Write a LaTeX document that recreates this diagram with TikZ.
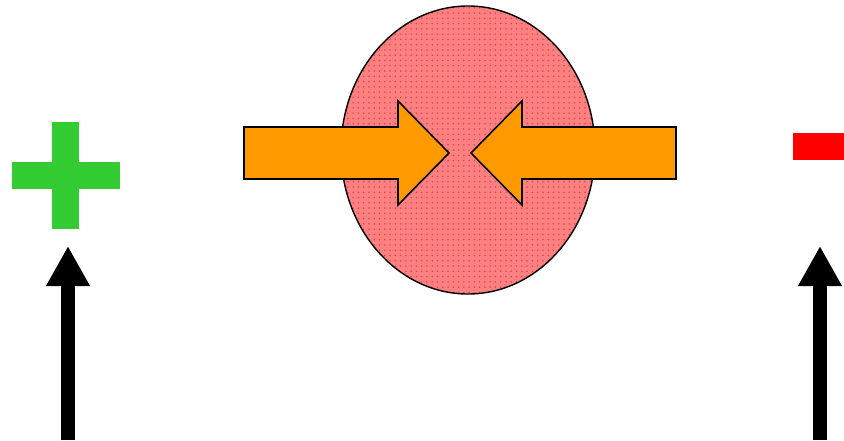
\documentclass[tikz,border=0pt]{standalone}
\usepackage{xcolor}
\usepackage{tikz}
\usetikzlibrary{arrows.meta,patterns}
\definecolor{plusgreen}{RGB}{51,204,51}
\definecolor{pushorange}{RGB}{255,153,0}
\definecolor{blobred}{RGB}{255,128,128}
\definecolor{dotred}{RGB}{225,70,70}

\begin{document}
\begin{tikzpicture}[x=0.02cm,y=-0.02cm,
 blob/.style={draw=black,line width=0.8pt,preaction={fill=blobred},pattern=dots,pattern color=dotred},
 push/.style={draw=black,line width=0.9pt,fill=pushorange,line join=miter},
 pole/.style={line width=0.27cm,-{Triangle[length=0.8cm,width=0.82cm]}}]
\useasboundingbox (0,0) rectangle (844,440);
% charges
\fill[plusgreen] (52,122) rectangle (79,229);
\fill[plusgreen] (12,162) rectangle (120,189);
\fill[red] (793,133) rectangle (844,160);
% squeezed region
\path[blob] (468,150) ellipse [x radius=127,y radius=144];
\draw[push] (244,127) -- (398,127) -- (398,101) -- (449,153) -- (398,205)
 -- (398,179) -- (244,179) -- cycle;
\draw[push] (676,127) -- (522,127) -- (522,101) -- (471,153) -- (522,205)
 -- (522,179) -- (676,179) -- cycle;
% upward arrows
\coordinate (lb) at (68,440);
\coordinate (lt) at (68,246);
\coordinate (rb) at (820,440);
\coordinate (rt) at (820,246);
\draw[pole] (lb) -- (lt);
\draw[pole] (rb) -- (rt);
\end{tikzpicture}
\end{document}
